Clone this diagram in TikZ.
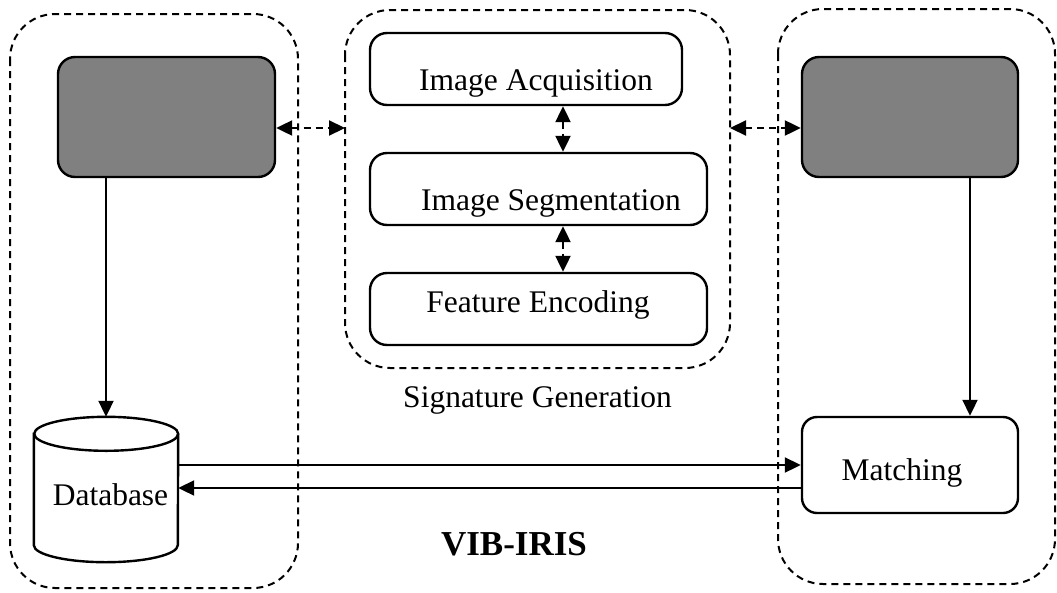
\documentclass[tikz,border=0pt]{standalone}
\usepackage{fontspec}
\setmainfont{Liberation Serif}
\usetikzlibrary{arrows.meta}
\begin{document}
\begin{tikzpicture}[x=1pt,y=-1pt,
  group/.style={draw, line width=2pt, dash pattern=on 7pt off 5pt, rounded corners=45pt},
  blockbox/.style={draw, line width=2.4pt, rounded corners=17pt, fill=white, inner sep=0pt},
  graybox/.style={blockbox, fill=gray},
  lbl/.style={font=\fontsize{31.5}{36}\selectfont, anchor=base, inner sep=0pt},
  tip/.style={-{Triangle[length=16pt,width=15pt]}},
  bitip/.style={{Triangle[length=16pt,width=15pt]}-{Triangle[length=16pt,width=15pt]}},
  link/.style={line width=2pt},
  dlink/.style={line width=2.2pt, dash pattern=on 7pt off 5pt}]
\useasboundingbox (0,0) rectangle (1057,592);

% dashed group outlines
\draw[group] (10,14) rectangle (298,588);
\draw[group] (345,10) rectangle (730,368);
\draw[group] (778,9) rectangle (1055,584);
\coordinate (gl) at (345,128);
\coordinate (gr) at (730,128);

% shaded units
\node[graybox, minimum width=217pt, minimum height=120pt] (lg) at (166.5,117) {};
\node[graybox, minimum width=216pt, minimum height=120pt] (rg) at (910,117) {};

% signature generation stages
\node[blockbox, minimum width=312pt, minimum height=72pt] (acq) at (526,69) {};
\node[blockbox, minimum width=337pt, minimum height=72pt] (seg) at (538.5,189) {};
\node[blockbox, minimum width=337pt, minimum height=72pt] (enc) at (538.5,309) {};
\node[lbl] at (536,90) {Image Acquisition};
\node[lbl] at (551,210) {Image Segmentation};
\node[lbl] at (538,312) {Feature Encoding};
\node[lbl] at (537.5,407) {Signature Generation};

% database cylinder
\node[minimum width=144pt, minimum height=145pt, inner sep=0pt] (db) at (106,489.5) {};
\draw[line width=2.4pt, fill=white]
  ([yshift=-17pt]db.north west) -- ([yshift=17pt]db.south west)
  arc[start angle=180, end angle=360, x radius=72pt, y radius=17pt]
  -- ([yshift=-17pt]db.north east)
  arc[start angle=0, end angle=180, x radius=72pt, y radius=17pt] -- cycle;
\draw[line width=2.4pt] ([yshift=-17pt]db.north east)
  arc[start angle=0, end angle=-180, x radius=72pt, y radius=17pt];
\node[lbl] at (110.5,505) {Database};

% matching
\node[blockbox, minimum width=216pt, minimum height=96pt, rounded corners=15pt] (mt) at (910,465) {};
\node[lbl] at (902,480) {Matching};

% title
\node[lbl, font=\fontsize{35}{40}\selectfont\bfseries] at (514,555) {VIB-IRIS};

% connectors
\draw[link, tip] (lg.south -| 106,0) -- (db.north -| 106,0);
\draw[link, tip] (rg.south -| 970,0) -- (mt.north -| 970,0);
\draw[link, tip] (db.east |- 0,465) -- (mt.west |- 0,465);
\draw[link, tip] (mt.west |- 0,488) -- (db.east |- 0,488);
\draw[dlink, bitip] (lg.east |- gl) -- (gl);
\draw[dlink, bitip] (gr) -- (rg.west |- gr);
\draw[dlink, bitip] (acq.south -| 563,0) -- (seg.north -| 563,0);
\draw[dlink, bitip] (seg.south -| 563,0) -- (enc.north -| 563,0);
\end{tikzpicture}
\end{document}
